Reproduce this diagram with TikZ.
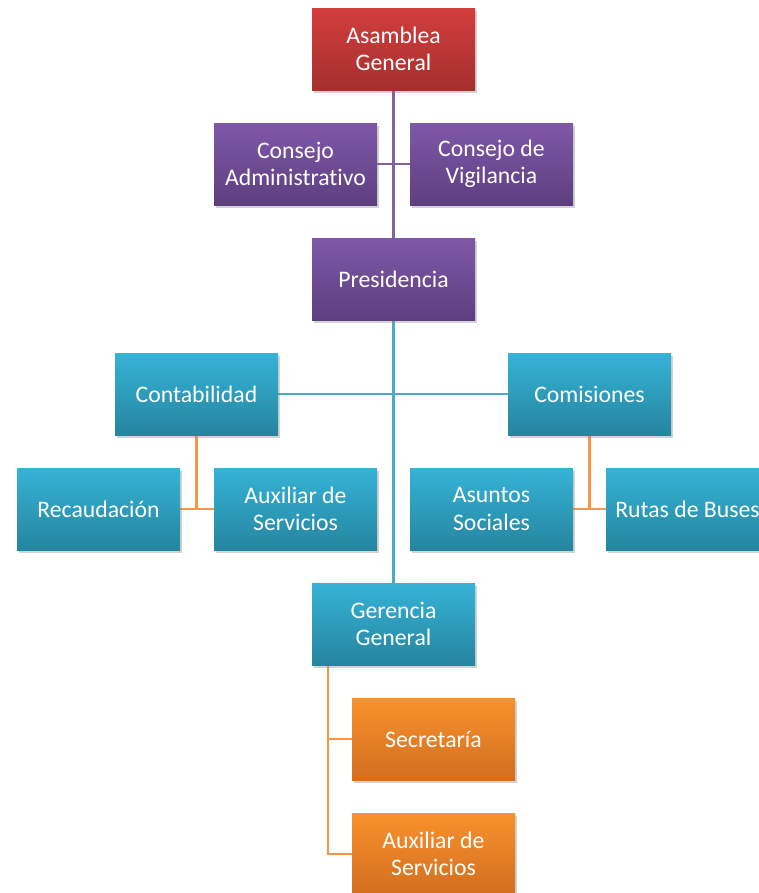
\documentclass[tikz,border=0pt]{standalone}
\usepackage{fontspec}
\setmainfont{Carlito}[Ligatures=NoCommon]
\usetikzlibrary{shadows,backgrounds,calc}
\definecolor{redtop}{HTML}{D23E3D}
\definecolor{redbot}{HTML}{A52F2E}
\definecolor{purtop}{HTML}{7F58A9}
\definecolor{purbot}{HTML}{5D3F7F}
\definecolor{bluetop}{HTML}{36B3D6}
\definecolor{bluebot}{HTML}{25859F}
\definecolor{orgtop}{HTML}{F8922D}
\definecolor{orgbot}{HTML}{D26E1F}
\definecolor{purline}{HTML}{8064A2}
\definecolor{blueline}{HTML}{4BACC6}
\definecolor{orgline}{HTML}{F79646}
\tikzset{
	box/.style={rectangle, minimum width=122.25pt, minimum height=61.5pt, inner sep=0pt,
		text=white, align=center, font=\fontsize{17.8}{20.4}\selectfont,
		drop shadow={shadow xshift=1.5pt, shadow yshift=-2pt, opacity=0.35}},
	redbox/.style={box, top color=redtop, bottom color=redbot},
	purbox/.style={box, top color=purtop, bottom color=purbot},
	bluebox/.style={box, top color=bluetop, bottom color=bluebot},
	orgbox/.style={box, top color=orgtop, bottom color=orgbot},
	purlink/.style={draw=purline, line width=1.6pt},
	bluelink/.style={draw=blueline, line width=1.6pt},
	orglink/.style={draw=orgline, line width=1.6pt}
}
\begin{document}
\begin{tikzpicture}[x=0.75pt, y=-0.75pt]
		\useasboundingbox (0,0) rectangle (758,893);
		\node[redbox] (asamblea) at (393.5,49) {Asamblea\\General};
		\node[purbox] (consejoadm) at (295.5,164) {Consejo\\Administrativo};
		\node[purbox] (consejovig) at (491.5,164) {Consejo de\\Vigilancia};
		\node[purbox] (presidencia) at (393.5,279) {Presidencia};
		\node[bluebox] (contabilidad) at (196.5,394) {Contabilidad};
		\node[bluebox] (comisiones) at (589.5,394) {Comisiones};
		\node[bluebox] (recaudacion) at (98.5,509) {Recaudación};
		\node[bluebox] (auxserv) at (295.5,509) {Auxiliar de\\Servicios};
		\node[bluebox] (asuntos) at (491.5,509) {Asuntos\\Sociales};
		\node[bluebox] (rutas) at (687.5,509) {Rutas de Buses};
		\node[bluebox] (gerencia) at (393.5,624) {Gerencia\\General};
		\node[orgbox] (secretaria) at (433.5,739) {Secretaría};
		\node[orgbox] (auxservger) at (433.5,854) {Auxiliar de\\Servicios};
		\coordinate (gertrunk) at ($(gerencia.south west)+(16,0)$);
		\begin{pgfonlayer}{background}
			\draw[purlink] (asamblea.south) -- (presidencia.north);
			\draw[purlink] (consejoadm.east) -- (consejovig.west);
			\draw[bluelink] (presidencia.south) -- (gerencia.north);
			\draw[bluelink] (contabilidad.east) -- (comisiones.west);
			\draw[orglink] (contabilidad.south) -- (contabilidad.south |- recaudacion.east);
			\draw[orglink] (recaudacion.east) -- (auxserv.west);
			\draw[orglink] (comisiones.south) -- (comisiones.south |- asuntos.east);
			\draw[orglink] (asuntos.east) -- (rutas.west);
			\draw[orglink] (gertrunk) |- (secretaria.west);
			\draw[orglink] (gertrunk) |- (auxservger.west);
		\end{pgfonlayer}
	\end{tikzpicture}
\end{document}
